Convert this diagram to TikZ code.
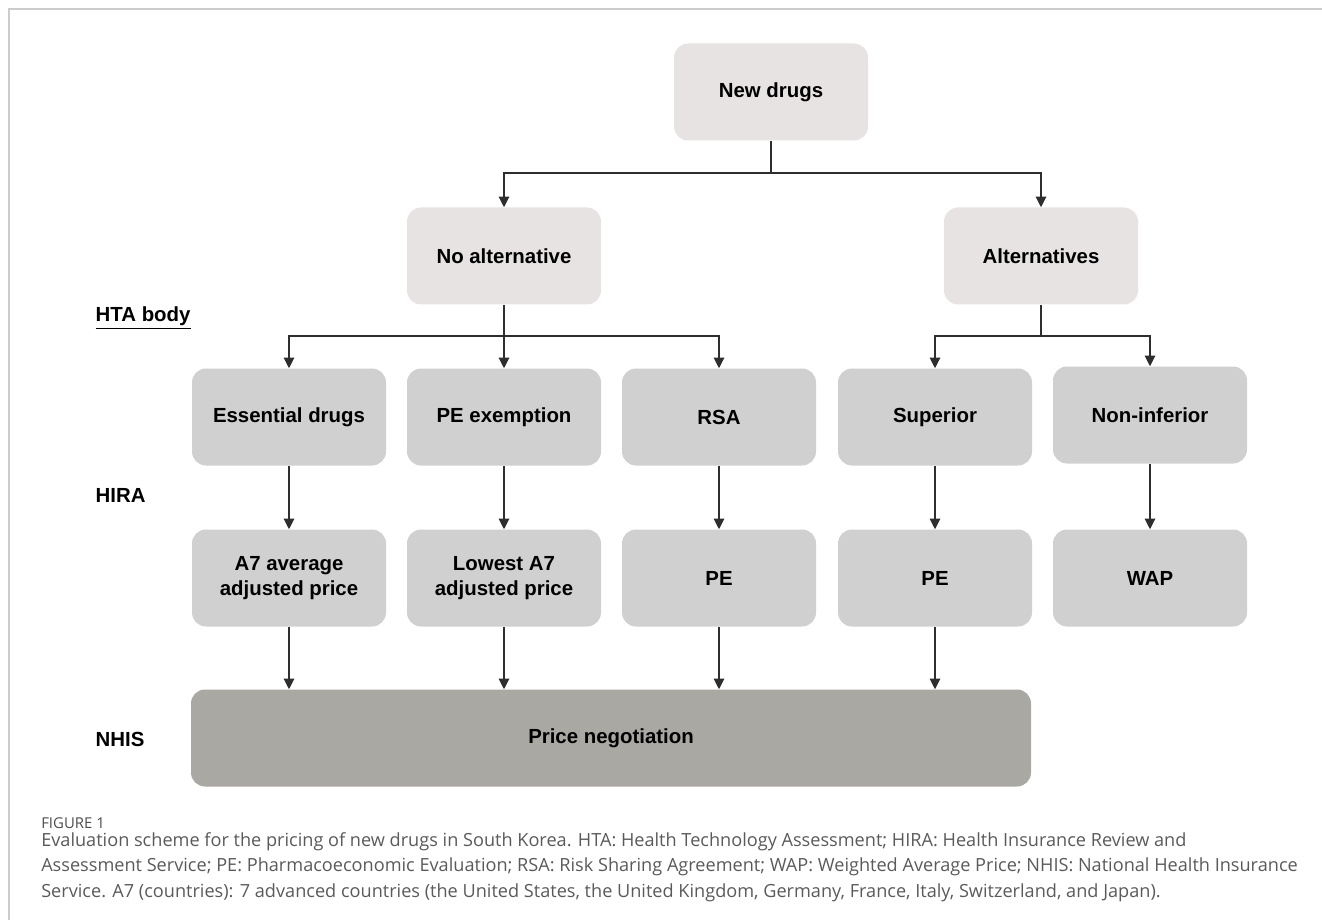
\documentclass[tikz,border=0pt]{standalone}
\usepackage{fontspec}
\setmainfont{Liberation Sans}
\newfontfamily\capfont{Open Sans}
\usetikzlibrary{arrows.meta}

\definecolor{toppink}{HTML}{E8E3E3}
\definecolor{boxgray}{HTML}{D0D0D0}
\definecolor{darkbox}{HTML}{A9A8A3}
\definecolor{linegray}{HTML}{2E2E2E}
\definecolor{captext}{HTML}{5A5A5A}

\tikzset{
  box/.style={rounded corners=10.5pt, fill=boxgray, minimum width=145.5pt,
    minimum height=72.75pt, align=center, inner sep=2pt,
    font=\fontsize{15.3}{18.75}\selectfont\bfseries},
  topbox/.style={box, fill=toppink},
  level/.style={anchor=west, font=\fontsize{15.3}{18.75}\selectfont\bfseries},
  arr/.style={linegray, line width=0.85pt, -{Triangle[width=8pt,length=8pt]}},
  link/.style={linegray, line width=0.85pt},
  captionline/.style={anchor=west, inner sep=0pt, text=captext, font=\capfont\fontsize{13.6}{16}\selectfont}
}

\begin{document}
\begin{tikzpicture}[x=0.75pt, y=-0.75pt]
  \useasboundingbox (0,0) rectangle (1322,920);

  % frame of the figure panel
  \draw[gray!40, line width=1.5pt] (1322,9) -- (9,9) -- (9,920);

  % decision tree
  \node[topbox] (nd) at (771,92) {New drugs};
  \node[topbox] (noalt) at (504,256) {No alternative};
  \node[topbox] (alt) at (1041,256) {Alternatives};

  \node[box] (ess) at (289,417) {Essential drugs};
  \node[box] (peex) at (504,417) {PE exemption};
  \node[box] (rsa) at (719,417) {RSA};
  \node[box] (sup) at (935,417) {Superior};
  \node[box] (noninf) at (1150,415) {Non-inferior};

  \node[box] (a7avg) at (289,578) {A7 average\\adjusted price};
  \node[box] (a7low) at (504,578) {Lowest A7\\adjusted price};
  \node[box] (pe1) at (719,578) {PE};
  \node[box] (pe2) at (935,578) {PE};
  \node[box] (wap) at (1150,578) {WAP};

  \node[box, fill=darkbox, minimum width=630pt] (price) at (611,738) {Price negotiation};

  % level labels
  \node[level] (hta) at (91,318) {\underline{HTA body}};
  \node[level] (hira) at (91,495) {HIRA};
  \node[level] (nhis) at (91,739) {NHIS};

  % branches
  \coordinate (j1) at (771,173);
  \coordinate (j2) at (504,336);
  \coordinate (j3) at (1041,336);
  \draw[link] (nd.south) -- (j1);
  \draw[arr] (j1) -| (noalt.north);
  \draw[arr] (j1) -| (alt.north);
  \draw[link] (noalt.south) -- (j2);
  \draw[arr] (j2) -| (ess.north);
  \draw[arr] (j2) -- (peex.north);
  \draw[arr] (j2) -| (rsa.north);
  \draw[link] (alt.south) -- (j3);
  \draw[arr] (j3) -| (sup.north);
  \draw[arr] (j3) -| (noninf.north);

  % HIRA to pricing
  \draw[arr] (ess) -- (a7avg);
  \draw[arr] (peex) -- (a7low);
  \draw[arr] (rsa) -- (pe1);
  \draw[arr] (sup) -- (pe2);
  \draw[arr] (noninf) -- (wap);

  % to NHIS
  \foreach \b in {a7avg, a7low, pe1, pe2}
    \draw[arr] (\b.south) -- (\b.south |- price.north);

  % caption
  \node[captionline, text=black!70, font=\capfont\fontsize{11.2}{13}\selectfont] (fig) at (41,823) {FIGURE 1};
  \node[captionline] (c1) at (41,842) {Evaluation scheme for the pricing of new drugs in South Korea. HTA: Health Technology Assessment; HIRA: Health Insurance Review and};
  \node[captionline] (c2) at (41,867) {Assessment Service; PE: Pharmacoeconomic Evaluation; RSA: Risk Sharing Agreement; WAP: Weighted Average Price; NHIS: National Health Insurance};
  \node[captionline] (c3) at (41,893) {Service. A7 (countries): 7 advanced countries (the United States, the United Kingdom, Germany, France, Italy, Switzerland, and Japan).};
\end{tikzpicture}
\end{document}
